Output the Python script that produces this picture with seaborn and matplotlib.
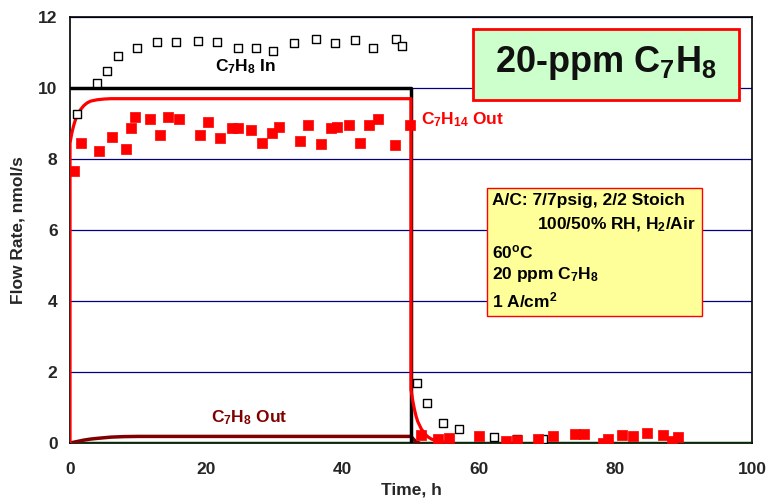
import numpy as np
import pandas as pd
import matplotlib
matplotlib.use("Agg")
import matplotlib.pyplot as plt
import seaborn as sns
from matplotlib.patches import Rectangle
from matplotlib.ticker import MultipleLocator

# datos
t_in = [1.0, 3.9, 5.4, 7.1, 9.8, 12.7, 15.6, 18.7, 21.6, 24.6, 27.3, 29.8, 32.9, 36.1,
        38.8, 41.8, 44.5, 47.8, 48.7, 50.9, 52.4, 54.7, 57.0, 62.2, 65.6, 69.3]
c7h8_in = [9.28, 10.14, 10.49, 10.9, 11.12, 11.3, 11.3, 11.33, 11.3, 11.12, 11.12, 11.05, 11.27, 11.37,
           11.27, 11.34, 11.13, 11.38, 11.18, 1.69, 1.14, 0.57, 0.40, 0.18, 0.12, 0.10]

t_out = [0.6, 1.6, 4.3, 6.1, 8.2, 8.9, 9.5, 11.7, 13.2, 14.3, 16.0, 19.0, 20.2, 22.0, 23.7, 24.6,
         26.5, 28.2, 29.6, 30.6, 33.7, 34.9, 36.8, 38.2, 39.1, 40.9, 42.5, 43.9, 45.1, 47.7, 49.9,
         51.5, 53.9, 55.5, 59.9, 63.9, 65.5, 68.6, 70.8, 74.1, 75.4, 78.1, 78.9, 81.0, 82.6, 84.6,
         87.0, 88.3, 89.1]
c7h14_out = [7.66, 8.44, 8.23, 8.62, 8.27, 8.86, 9.17, 9.14, 8.69, 9.17, 9.14, 8.69, 9.05, 8.59, 8.86, 8.86,
             8.81, 8.45, 8.73, 8.91, 8.52, 8.97, 8.42, 8.86, 8.91, 8.97, 8.45, 8.97, 9.12, 8.39, 8.95,
             0.22, 0.10, 0.15, 0.19, 0.05, 0.09, 0.12, 0.19, 0.26, 0.26, 0.01, 0.12, 0.23, 0.20, 0.27,
             0.23, 0.06, 0.16]

# curvas del modelo
t_mod_in = [0, 50, 50]
mod_in = [10, 10, 0]

t_mod_c7h14 = [0, 0, 0.25, 0.5, 0.75, 1, 1.5, 2, 2.5, 3, 4, 5, 6, 50, 50, 50.25, 50.5, 50.75, 51,
               51.5, 52, 52.5, 53, 54, 55, 56]
mod_c7h14 = [0, 8.45, 8.72, 8.92, 9.08, 9.2, 9.38, 9.5, 9.58, 9.63, 9.67, 9.69, 9.7, 9.7, 1.5, 1.2,
             0.95, 0.75, 0.6, 0.4, 0.26, 0.17, 0.11, 0.05, 0.02, 0.0]

t_mod_c7h8 = [0, 1, 2, 3, 4, 6, 8, 10, 50, 50.3, 50.7, 51.2]
mod_c7h8 = [0, 0.04, 0.08, 0.11, 0.13, 0.165, 0.18, 0.185, 0.185, 0.12, 0.04, 0.0]

t_base = [0, 100]
base = [0, 0]

sns.set_style("white")
plt.rcParams['font.family'] = ['Liberation Sans', 'DejaVu Sans']
plt.rcParams['font.weight'] = 'bold'
plt.rcParams['mathtext.fontset'] = 'custom'
plt.rcParams['mathtext.rm'] = 'Liberation Sans:bold'
plt.rcParams['mathtext.it'] = 'Liberation Sans:bold'
plt.rcParams['mathtext.bf'] = 'Liberation Sans:bold'
plt.rcParams['mathtext.default'] = 'rm'

fig = plt.figure(figsize=(7.67, 5.01), dpi=100)
ax = fig.add_axes([0.0913, 0.1158, 0.8891, 0.8502])

for y in [2, 4, 6, 8, 10, 12]:
    ax.axhline(y, color='#000080', linewidth=0.9, zorder=1)

sns.lineplot(x=t_base, y=base, ax=ax, color='#003300', linewidth=2.5, sort=False, estimator=None, zorder=3)
sns.lineplot(x=t_mod_c7h8, y=mod_c7h8, ax=ax, color='#800000', linewidth=2.5, sort=False, estimator=None, zorder=4)
sns.lineplot(x=t_mod_in, y=mod_in, ax=ax, color='black', linewidth=2.5, sort=False, estimator=None, zorder=4)
sns.lineplot(x=t_mod_c7h14, y=mod_c7h14, ax=ax, color='#ff0000', linewidth=2.3, sort=False, estimator=None, zorder=5)

sns.scatterplot(x=t_in, y=c7h8_in, ax=ax, marker='s', s=36, facecolor='white', edgecolor='black',
                linewidth=1.0, zorder=6)
sns.scatterplot(x=t_out, y=c7h14_out, ax=ax, marker='s', s=42, color='#ff0000', edgecolor='#ff0000',
                linewidth=0.5, zorder=7)

ax.set_xlim(0, 100)
ax.set_ylim(0, 12)
ax.xaxis.set_major_locator(MultipleLocator(20))
ax.xaxis.set_minor_locator(MultipleLocator(4))
ax.yaxis.set_major_locator(MultipleLocator(2))
ax.yaxis.set_minor_locator(MultipleLocator(0.4))
ax.tick_params(which='both', direction='in', length=4, width=1, color='black',
               top=False, right=False, labelsize=12.5)
ax.tick_params(axis='x', pad=14)
ax.tick_params(axis='y', pad=9)
for lab in ax.get_xticklabels() + ax.get_yticklabels():
    lab.set_fontweight('bold')
for s in ax.spines.values():
    s.set_color('black')
    s.set_linewidth(1.2)

ax.set_xlabel('Time, h', fontsize=12.5, fontweight='bold', labelpad=4)
ax.set_ylabel('Flow Rate, nmol/s', fontsize=12.5, fontweight='bold', labelpad=9)

ax.text(25.7, 10.6, r'C$_7$H$_8$ In', fontsize=12.5, fontweight='bold', color='black', ha='center', va='center')
ax.text(51.5, 9.1, r'C$_7$H$_{14}$ Out', fontsize=12.5, fontweight='bold', color='#ff0000', ha='left', va='center')
ax.text(26.3, 0.7, r'C$_7$H$_8$ Out', fontsize=12.5, fontweight='bold', color='#800000', ha='center', va='center')

# recuadro titulo
ax.add_patch(Rectangle((59.1, 9.66), 39.0, 2.0, facecolor='#ccffcc', edgecolor='#ff0000',
                       linewidth=2, zorder=8))
ax.text(78.5, 10.7, r'20-ppm C$_7$H$_8$', fontsize=26, fontweight='bold', color='#111111',
        ha='center', va='center', zorder=9)

# recuadro condiciones
ax.add_patch(Rectangle((61.2, 3.59), 31.5, 3.58, facecolor='#ffff99', edgecolor='#ff0000',
                       linewidth=1, zorder=8))
lines = [(61.9, 6.83, 'A/C: 7/7psig, 2/2 Stoich'),
         (68.5, 6.14, r'100/50% RH, H$_2$/Air'),
         (61.9, 5.38, r'60$^o$C'),
         (61.9, 4.75, r'20 ppm C$_7$H$_8$'),
         (61.9, 4.02, r'1 A/cm$^2$')]
for x, y, s in lines:
    ax.text(x, y, s, fontsize=12.5, fontweight='bold', color='black', ha='left', va='center', zorder=9)

plt.savefig('out.png', dpi=100)
